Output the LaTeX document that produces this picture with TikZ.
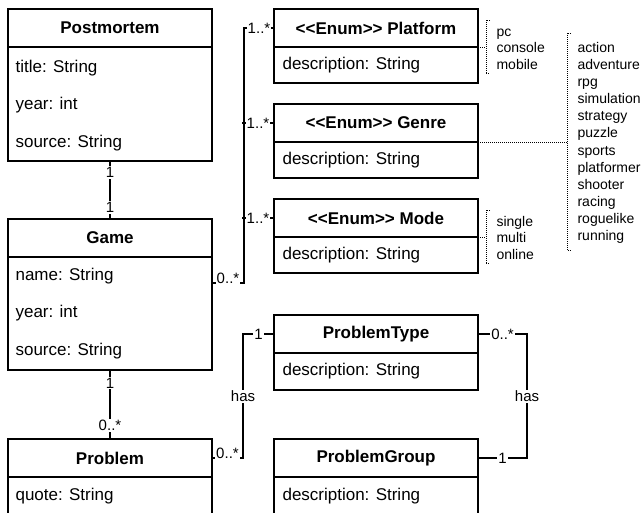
\documentclass[tikz,border=0pt]{standalone}
\usepackage{fontspec}
\setmainfont{Liberation Sans}
\usetikzlibrary{positioning}

% keeps << and >> from turning into guillemets
\newcommand{\stereo}[1]{<\kern0pt<#1>\kern0pt>}

\begin{document}
\begin{tikzpicture}[x=1pt,y=-1pt,line width=1.1pt,node distance=21pt]
  \tikzstyle{head}=[draw,outer sep=0pt,minimum width=204pt,minimum height=38pt,
                    font=\fontsize{17}{20}\selectfont\bfseries]
  \tikzstyle{body}=[draw,outer sep=0pt,minimum width=204pt,minimum height=36pt]
  \tikzstyle{attr}=[anchor=west,inner sep=0pt,font=\fontsize{17}{20}\selectfont]
  \tikzstyle{lbl}=[fill=white,inner sep=1pt,font=\fontsize{15}{18}\selectfont]
  \tikzstyle{note}=[anchor=west,align=left,inner xsep=10pt,inner ysep=3.5pt,
                    font=\fontsize{14}{16.8}\selectfont]
  \tikzstyle{dots}=[line width=0.8pt,dash pattern=on 1pt off 1pt]

  \useasboundingbox (0,0) rectangle (642,512);

  % left column
  \node[head] (pm) at (110,28) {Postmortem};
  \node[body,minimum height=114pt,below=0pt of pm] (pmb) {};
  \node[attr] (pmtitle)  at ([xshift=7pt,yshift=-21pt]pmb.north west) {title: String};
  \node[attr] (pmyear)   at ([yshift=-37.5pt]pmtitle.west) {year: int};
  \node[attr] (pmsource) at ([yshift=-37.5pt]pmyear.west) {source: String};

  \node[head,below=58pt of pmb] (game) {Game};
  \node[body,minimum height=113pt,below=0pt of game] (gameb) {};
  \node[attr] (gamename)   at ([xshift=7pt,yshift=-19pt]gameb.north west) {name: String};
  \node[attr] (gameyear)   at ([yshift=-37.5pt]gamename.west) {year: int};
  \node[attr] (gamesource) at ([yshift=-37.5pt]gameyear.west) {source: String};

  \node[head,below=69pt of gameb] (prob) {Problem};
  \node[body,minimum height=45pt,below=0pt of prob] (probb) {};
  \node[attr] (probquote) at ([xshift=7pt,yshift=-19pt]probb.north west) {quote: String};

  % enums
  \node[head] (plat) at (376,28) {\stereo{Enum} Platform};
  \node[body,below=0pt of plat] (platb) {};
  \node[attr] (platdesc) at ([xshift=8pt]platb.west) {description: String};

  \node[head,below=of platb] (genre) {\stereo{Enum} Genre};
  \node[body,below=0pt of genre] (genreb) {};
  \node[attr] (genredesc) at ([xshift=8pt]genreb.west) {description: String};

  \node[head,below=of genreb] (mode) {\stereo{Enum} Mode};
  \node[body,below=0pt of mode] (modeb) {};
  \node[attr] (modedesc) at ([xshift=8pt]modeb.west) {description: String};

  % problem types
  \node[head] (ptype) at (376,334) {ProblemType};
  \node[body,minimum height=37pt,below=0pt of ptype] (ptypeb) {};
  \node[attr] (ptypedesc) at ([xshift=8pt]ptypeb.west) {description: String};

  \node[head,below=49pt of ptypeb] (pgroup) {ProblemGroup};
  \node[body,minimum height=45pt,below=0pt of pgroup] (pgroupb) {};
  \node[attr] (pgroupdesc) at ([xshift=8pt,yshift=-19pt]pgroupb.north west) {description: String};

  % enum values
  \node[note,right=8pt of platb.north east] (platnote) {\strut pc\\console\\mobile};
  \node[note,right=89pt of genreb.north east,inner ysep=6.5pt,
        font=\fontsize{14}{17.1}\selectfont] (genrenote)
       {\strut action\\adventure\\rpg\\simulation\\strategy\\puzzle\\sports\\platformer\\shooter\\racing\\roguelike\\running};
  \node[note,right=8pt of modeb.north east] (modenote) {\strut single\\multi\\online};

  \foreach \n in {platnote,genrenote,modenote}
    \draw[dots] ([xshift=4pt]\n.north west) -- (\n.north west) -- (\n.south west) -- ([xshift=4pt]\n.south west);
  \draw[dots] (platb.north east) -- (platnote.west);
  \draw[dots] (genreb.north east) -- (genrenote.west);
  \draw[dots] (modeb.north east) -- (modenote.west);

  % associations
  \draw (pmb.south) -- node[lbl,pos=.2] {1} node[lbl,pos=.8] {1} (game.north);
  \draw (gameb.south) -- node[lbl,pos=.19] {1} node[lbl,pos=.8] {0..*} (prob.north);

  \draw ([yshift=-26pt]gameb.north east) -- node[lbl,yshift=5pt] {0..*} ++(32,0)
        |- node[lbl,pos=.75] {1..*} (plat.west);
  \draw (genre.west) -- node[lbl] {1..*} ++(-32,0);
  \draw (mode.west) -- node[lbl] {1..*} ++(-32,0);

  \draw (prob.east) -- node[lbl,yshift=5pt] {0..*} ++(31,0)
        |- node[lbl,pos=.25] {has} node[lbl,pos=.75] {1} (ptype.west);
  \draw (ptype.east) -- node[lbl] {0..*} ++(49,0)
        |- node[lbl,pos=.25] {has} node[lbl,pos=.75] {1} (pgroup.east);
\end{tikzpicture}
\end{document}
